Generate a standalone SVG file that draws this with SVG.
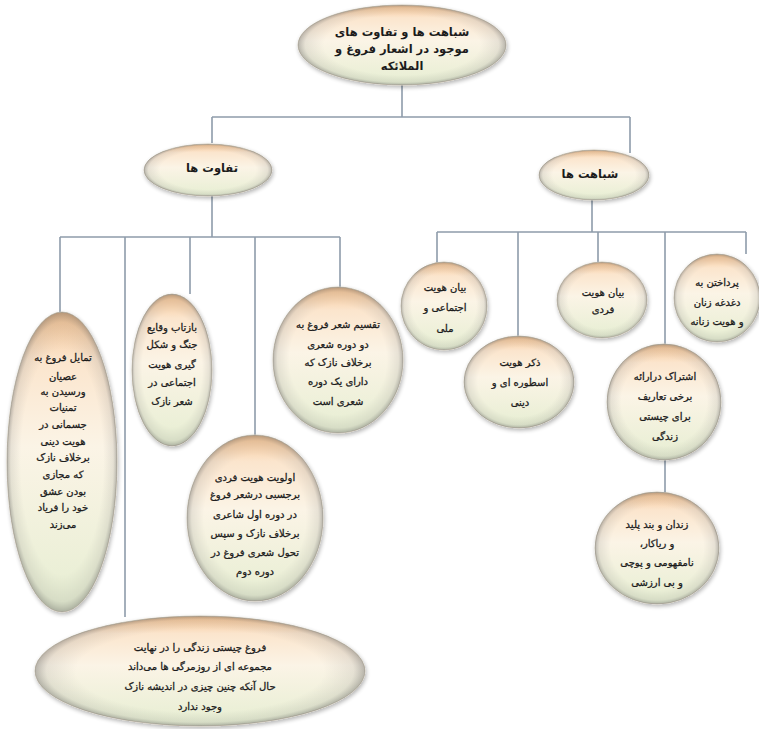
<svg xmlns="http://www.w3.org/2000/svg" width="759" height="729" viewBox="0 0 759 729">
<defs>
<linearGradient id="fillG" x1="0" y1="0" x2="0" y2="1">
<stop offset="0" stop-color="#f6c391"/>
<stop offset="0.16" stop-color="#fbe5cd"/>
<stop offset="0.45" stop-color="#fbf4e6"/>
<stop offset="1" stop-color="#e6eed2"/>
</linearGradient>
<radialGradient id="edgeG" cx="0.5" cy="0.5" r="0.5">
<stop offset="0.75" stop-color="#707070" stop-opacity="0"/>
<stop offset="0.93" stop-color="#707070" stop-opacity="0.14"/>
<stop offset="1" stop-color="#505050" stop-opacity="0.4"/>
</radialGradient>
<filter id="sh" x="-10%" y="-10%" width="120%" height="125%">
<feGaussianBlur in="SourceAlpha" stdDeviation="2"/>
<feOffset dx="1" dy="2" result="b"/>
<feComponentTransfer><feFuncA type="linear" slope="0.3"/></feComponentTransfer>
<feMerge><feMergeNode/><feMergeNode in="SourceGraphic"/></feMerge>
</filter>
</defs>
<style>
.b{fill:url(#fillG);stroke:#cfc8b8;stroke-width:1;filter:url(#sh)}
.e{fill:url(#edgeG);stroke:none}
.c{fill:none;stroke:#8e9cab;stroke-width:1.6}
text{font-family:"DejaVu Sans",sans-serif;font-size:10px;fill:#1c1c1c;stroke:#1c1c1c;stroke-width:0.3;text-anchor:middle;direction:rtl}
.t{font-size:11.5px;font-weight:bold;stroke:none}
</style>
<rect width="759" height="729" fill="#ffffff"/>
<g id="connectors">
<path class="c" d="M402 85V117M212 117H630M212 117V143M630 117V153"/>
<path class="c" d="M592 200V232M437 232H746M437 232V263M518 232V337M598 232V262M665 232V345M746 232V254M665 459V493"/>
<path class="c" d="M212 195V237M60 237H340M60 237V312M125 237V617M190 237V294M255 237V436M340 237V288"/>
</g>
<g id="n-root"><ellipse class="b" cx="402" cy="45" rx="104" ry="40"/><ellipse class="e" cx="402" cy="45" rx="104" ry="40"/>
<text class="t" x="402" y="36">شباهت ها و تفاوت های</text><text class="t" x="402" y="53">موجود در اشعار فروغ و</text><text class="t" x="402" y="70">الملائکه</text></g>
<g id="n-diff"><ellipse class="b" cx="208" cy="170" rx="64" ry="26"/><ellipse class="e" cx="208" cy="170" rx="64" ry="26"/>
<text class="t" x="212" y="172">تفاوت ها</text></g>
<g id="n-sim"><ellipse class="b" cx="594" cy="175" rx="55" ry="25"/><ellipse class="e" cx="594" cy="175" rx="55" ry="25"/>
<text class="t" x="590" y="178">شباهت ها</text></g>
<g id="n-s1"><ellipse class="b" cx="444" cy="306" rx="43" ry="44"/><ellipse class="e" cx="444" cy="306" rx="43" ry="44"/>
<text x="445" y="291">بیان هویت</text><text x="445" y="311">اجتماعی و</text><text x="445" y="332">ملی</text></g>
<g id="n-s2"><ellipse class="b" cx="602" cy="300" rx="45" ry="38"/><ellipse class="e" cx="602" cy="300" rx="45" ry="38"/>
<text x="603" y="296">بیان هویت</text><text x="603" y="313">فردی</text></g>
<g id="n-s3"><ellipse class="b" cx="717" cy="298" rx="43" ry="44"/><ellipse class="e" cx="717" cy="298" rx="43" ry="44"/>
<text x="717" y="286">پرداختن به</text><text x="717" y="306">دغدغه زنان</text><text x="717" y="325">و هویت زنانه</text></g>
<g id="n-s4"><ellipse class="b" cx="519" cy="382" rx="55" ry="46"/><ellipse class="e" cx="519" cy="382" rx="55" ry="46"/>
<text x="520" y="366">ذکر هویت</text><text x="520" y="386">اسطوره ای و</text><text x="520" y="406">دینی</text></g>
<g id="n-s5"><ellipse class="b" cx="664" cy="402" rx="57" ry="58"/><ellipse class="e" cx="664" cy="402" rx="57" ry="58"/>
<text x="665" y="380">اشتراک درارائه</text><text x="665" y="400">برخی تعاریف</text><text x="665" y="420">برای چیستی</text><text x="665" y="440">زندگی</text></g>
<g id="n-s6"><ellipse class="b" cx="657" cy="548" rx="62" ry="56"/><ellipse class="e" cx="657" cy="548" rx="62" ry="56"/>
<text x="657" y="528">زندان و بند پلید</text><text x="657" y="547">و ریاکار،</text><text x="657" y="566">نامفهومی و پوچی</text><text x="657" y="586">و بی ارزشی</text></g>
<g id="n-d1"><ellipse class="b" cx="338" cy="360" rx="65" ry="73"/><ellipse class="e" cx="338" cy="360" rx="65" ry="73"/>
<text x="338" y="328">تقسیم شعر فروغ به</text><text x="338" y="348">دو دوره شعری</text><text x="338" y="366">برخلاف نازک که</text><text x="338" y="385">دارای یک دوره</text><text x="338" y="405">شعری است</text></g>
<g id="n-d2"><ellipse class="b" cx="172" cy="370" rx="40" ry="76"/><ellipse class="e" cx="172" cy="370" rx="40" ry="76"/>
<text x="172" y="331">بازتاب وقایع</text><text x="172" y="348">جنگ و شکل</text><text x="172" y="368">گیری هویت</text><text x="172" y="386">اجتماعی در</text><text x="172" y="405">شعر نازک</text></g>
<g id="n-d3"><ellipse class="b" cx="62" cy="462" rx="55" ry="150"/><ellipse class="e" cx="62" cy="462" rx="55" ry="150"/>
<text x="63" y="361">تمایل فروغ به</text><text x="63" y="380">عصیان</text><text x="63" y="395">ورسیدن به</text><text x="63" y="411">تمنیات</text><text x="63" y="428">جسمانی در</text><text x="63" y="445">هویت دینی</text><text x="63" y="461">برخلاف نازک</text><text x="63" y="478">که مجازی</text><text x="63" y="495">بودن عشق</text><text x="63" y="511">خود را فریاد</text><text x="63" y="528">می‌زند</text></g>
<g id="n-d4"><ellipse class="b" cx="255" cy="518" rx="68" ry="83"/><ellipse class="e" cx="255" cy="518" rx="68" ry="83"/>
<text x="255" y="481">اولویت هویت فردی</text><text x="255" y="498">برجسبی درشعر فروغ</text><text x="255" y="518">در دوره اول شاعری</text><text x="255" y="537">برخلاف نازک و سپس</text><text x="255" y="556">تحول شعری فروغ در</text><text x="255" y="575">دوره دوم</text></g>
<g id="n-d5"><ellipse class="b" cx="200" cy="671" rx="165" ry="55"/><ellipse class="e" cx="200" cy="671" rx="165" ry="55"/>
<text x="200" y="651">فروغ چیستی زندگی را در نهایت</text><text x="200" y="670">مجموعه ای از روزمرگی ها می‌داند</text><text x="200" y="690">حال آنکه چنین چیزی در اندیشه نازک</text><text x="200" y="710">وجود ندارد</text></g>
</svg>
